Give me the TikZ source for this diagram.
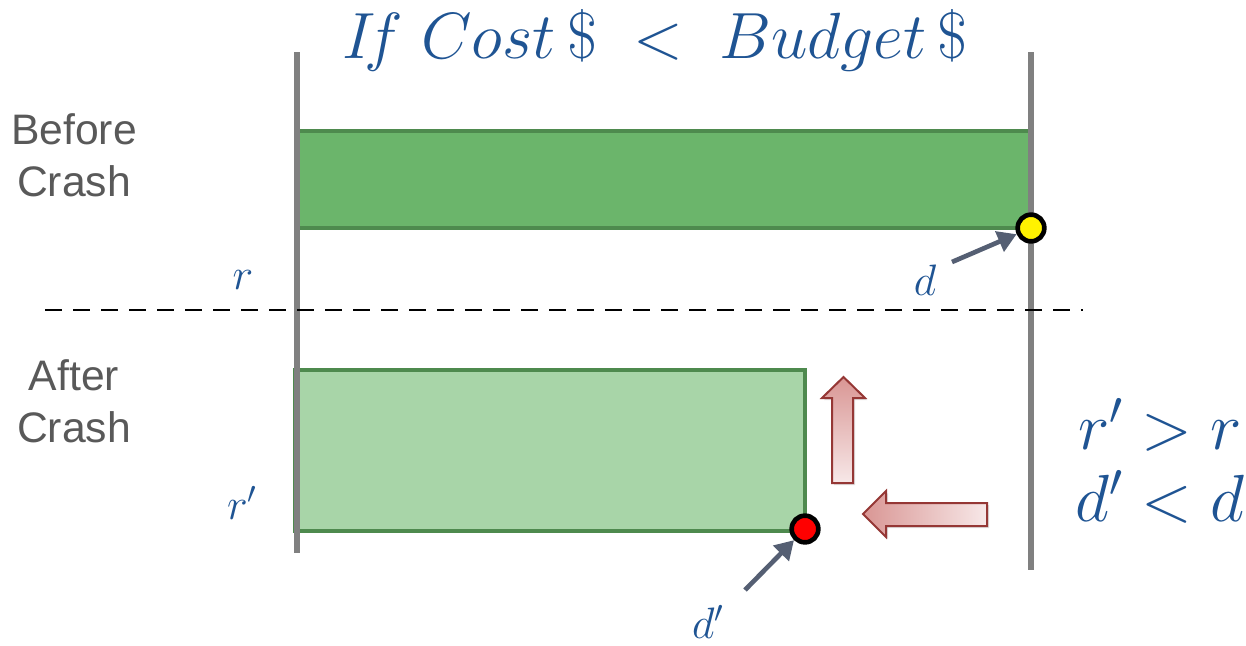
\RequirePackage{fix-cm}
\documentclass[tikz,border=0pt]{standalone}
\usepackage{fontspec}
\setmainfont{Liberation Sans}
\usetikzlibrary{arrows.meta, positioning, shadows}

\definecolor{wallgray}{HTML}{808080}
\definecolor{bardark}{HTML}{4E8A4E}
\definecolor{barfill}{HTML}{6BB56B}
\definecolor{barlight}{HTML}{A8D5A8}
\definecolor{labblue}{HTML}{1F5493}
\definecolor{pointer}{HTML}{555F73}
\definecolor{crashred}{HTML}{953735}
\definecolor{crashpink}{HTML}{D99694}
\definecolor{crashpale}{HTML}{F7E8E8}
\definecolor{txtgray}{HTML}{595959}

\begin{document}
\begin{tikzpicture}[
    x=0.75pt, y=-0.75pt,
    wall/.style={draw=wallgray, line width=4.5pt},
    bar/.style={draw=bardark, line width=3pt},
    dot/.style={circle, draw=black, line width=3.5pt, minimum size=20pt, inner sep=0pt},
    lab/.style={text=labblue, inner sep=0pt, font=\fontsize{33}{38}\selectfont},
    big/.style={text=labblue, font=\fontsize{50}{60}\selectfont},
    side/.style={text=txtgray, font=\fontsize{32}{39}\selectfont, align=center},
    pt/.style={draw=pointer, line width=3.5pt, -{Triangle[length=14pt, width=16pt]}},
    crash/.style={draw=crashred, line width=1.5pt,
        drop shadow={opacity=0.25, shadow xshift=1.5pt, shadow yshift=-1.5pt}},
]
\useasboundingbox (0,0) rectangle (1246,646);

% Title
\node[text=labblue, font=\fontsize{49}{58}\selectfont] (title) at (655,40) {$I\!f\ Cost\,\$\ <\ Budget\,\$$};

% Bars
\draw[bar, fill=barfill] (297,131) rectangle (1031,228);
\draw[bar, fill=barlight] (295,370) rectangle (805,531);

% Walls
\draw[wall] (297,52) -- (297,553);
\draw[wall] (1031,52) -- (1031,570);

% Divider
\draw[black, line width=2.2pt, dash pattern=on 13pt off 8pt] (45,310) -- (1083,310);

% Side texts
\node[side] (before) at (74,155) {Before\\Crash};
\node[side] (after) at (74,401) {After\\Crash};

% Deadlines
\node[dot, fill=yellow] (d) at (1031,228) {};
\node[dot, fill=red] (dp) at (805,529) {};

% Labels
\node[lab] (rlab) at (243,280) {$r$};
\node[lab] (dlab) at (925,280) {$d$};
\node[lab] (rplab) at (242,503) {$r'$};
\node[lab] (dplab) at (708,622) {$d'$};
\node[big] (rel1) at (1160,425) {$r' > r$};
\node[big] (rel2) at (1160,497) {$d' < d$};

\draw[pt] (952,262) -- (d);
\draw[pt] (745,590) -- (dp);

% Crash arrows
\shade[crash, top color=crashpink, bottom color=crashpale]
    (822,398) -- (843.5,377) -- (865,398) -- (853,398) -- (853,483) -- (832,483) -- (832,398) -- cycle;
\shade[crash, left color=crashpink, right color=crashpale]
    (863,514) -- (886,491) -- (886,503) -- (987,503) -- (987,526) -- (886,526) -- (886,537) -- cycle;
\end{tikzpicture}
\end{document}
